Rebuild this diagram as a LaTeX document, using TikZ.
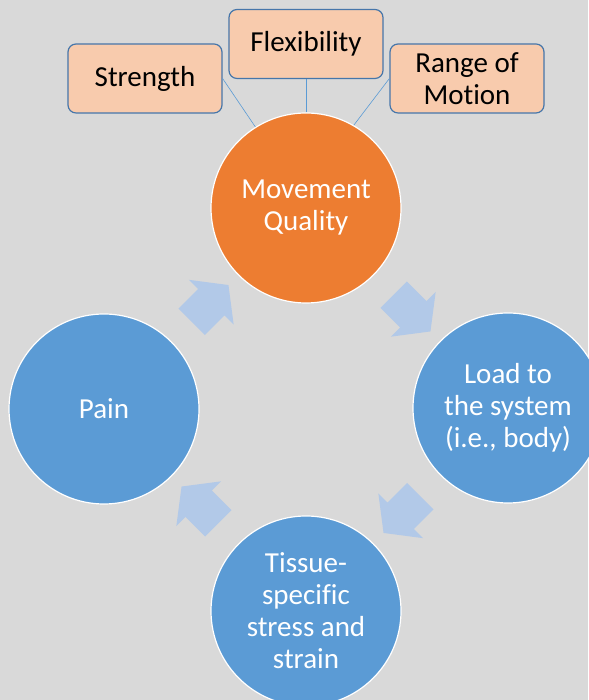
\documentclass[tikz,border=0pt]{standalone}
\usepackage{fontspec}
\setmainfont{Carlito}[Ligatures=NoCommon]
\usepackage{xcolor}
\usetikzlibrary{calc,positioning,shapes.arrows}
\definecolor{bgGray}{RGB}{217,217,217}
\definecolor{qualOrange}{RGB}{237,125,49}
\definecolor{cycBlue}{RGB}{91,155,213}
\definecolor{cycArrowFill}{RGB}{178,201,232}
\definecolor{facetFill}{RGB}{248,203,173}
\definecolor{facetEdge}{RGB}{70,118,170}
\tikzset{
  stage/.style={circle, draw=white, line width=1.2pt, minimum size=190pt, inner sep=0pt,
    text=white, align=center, font=\fontsize{29}{32}\selectfont},
  stageQ/.style={stage, fill=qualOrange},   % top circle
  stageB/.style={stage, fill=cycBlue},      % cycle circles
  facet/.style={draw=facetEdge, line width=1.2pt, fill=facetFill, rounded corners=8pt,
    minimum width=154pt, minimum height=69pt, align=center, font=\fontsize{29}{32}\selectfont},
  facetLink/.style={draw=cycBlue, line width=0.6pt},
  cycArrow/.style={single arrow, fill=cycArrowFill, draw=none, inner xsep=0pt, inner ysep=18.5pt,
    minimum height=52pt, single arrow head extend=13pt, single arrow tip angle=105}
}

\begin{document}
\begin{tikzpicture}[x=1pt,y=1pt]
  % Background
  \fill[bgGray] (0,0) rectangle (588,700);
  \useasboundingbox (0,0) rectangle (588,700);
  % Cycle circles
  \node[stageQ] (mq) at (306,492) {Movement\\Quality};
  \node[stageB] (load) at (508,292) {Load to\\the system\\(i.e., body)};
  \node[stageB] (tissue) at (306,89) {Tissue-\\specific\\stress and\\strain};
  \node[stageB] (pain) at (104,291) {Pain};
  % Facets of movement quality
  \node[facet] (strength) at (145,621.5) {Strength};
  \node[facet] (flex) at (306,656) {Flexibility};
  \node[facet] (rom) at (467,621.5) {Range of\\Motion};
  \draw[facetLink] (strength.east) -- (mq.122);
  \draw[facetLink] (flex.south) -- (mq.north);
  \draw[facetLink] (rom.west) -- (mq.60);
  % Block arrows round the cycle
  \node[cycArrow, rotate=45] (a1) at ($(pain)!0.5!(mq)$) {};
  \node[cycArrow, rotate=-45] (a2) at ($(mq)!0.5!(load)$) {};
  \node[cycArrow, rotate=-135] (a3) at ($(load)!0.5!(tissue)$) {};
  \node[cycArrow, rotate=135] (a4) at ($(tissue)!0.5!(pain)$) {};
\end{tikzpicture}
\end{document}
